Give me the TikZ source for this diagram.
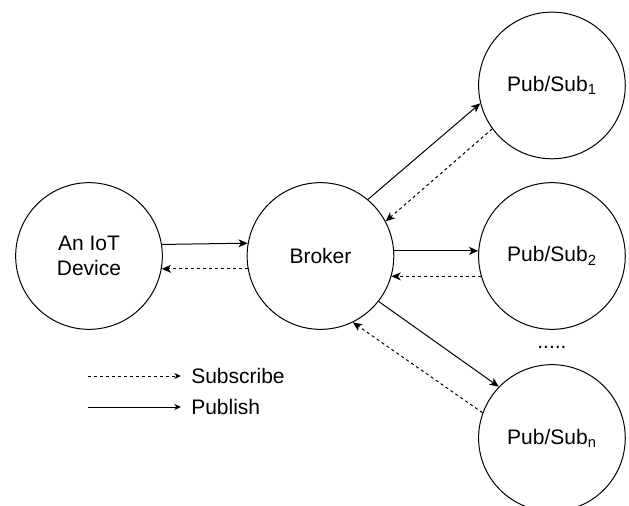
\documentclass[tikz,border=0pt]{standalone}
\usepackage{fontspec}
\setmainfont{Liberation Sans}
\usetikzlibrary{arrows.meta}
\usetikzlibrary{calc}
\usetikzlibrary{positioning}

\begin{document}
\begin{tikzpicture}[x=0.75pt,y=-0.75pt,node distance=173.6pt,line width=0.75pt,
  font=\fontsize{15.75}{18.75}\selectfont]
  \tikzstyle{peer}=[draw, circle, minimum size=110pt, inner sep=0pt, align=center]
  \tikzstyle{publine}=[-{Stealth[length=7pt,width=6pt,inset=2pt]}]
  \tikzstyle{subline}=[publine, dash pattern=on 2.25pt off 2.25pt]
  \tikzstyle{legtip}=[-{Stealth[length=5pt,width=4.5pt,inset=1.5pt]}]
  \useasboundingbox (0,0) rectangle (629,506);
  \clip (0,0) rectangle (629,506);

  \node[peer] (iot) at (89,256) {An IoT\\Device};
  \node[peer] (broker) [right of=iot] {Broker};
  \node[peer] (pub2) [right of=broker] {Pub/Sub\textsubscript{2}};
  \node[peer] (pub1) [above of=pub2, node distance=127.9pt] {Pub/Sub\textsubscript{1}};
  \node[peer] (pubn) [below of=pub2, node distance=136.5pt] {Pub/Sub\textsubscript{n}};
  \node (dots) at ($(pub2)!.5!(pubn)$) {.....};

  % publish
  \path[publine]
    (iot.9.5) edge (broker.170.5)
    (broker.4) edge (pub2.176)
    (broker.50) edge (pub1.194)
    (broker.-38) edge (pubn.136);
  % subscribe
  \path[subline]
    (broker.190) edge (iot.-10)
    (pub2.196) edge (broker.-16)
    (pub1.216) edge (broker.28)
    (pubn.160) edge (broker.-64);

  % legend
  \coordinate (subL) at (88,376);
  \coordinate (subR) at (181,376);
  \coordinate (pubL) at (88,407);
  \coordinate (pubR) at (181,407);
  \node (subtxt) [right=4pt of subR] {Subscribe};
  \node (pubtxt) [right=4pt of pubR] {Publish};
  \draw[subline, legtip] (subL) -- (subR);
  \draw[legtip] (pubL) -- (pubR);
\end{tikzpicture}
\end{document}
